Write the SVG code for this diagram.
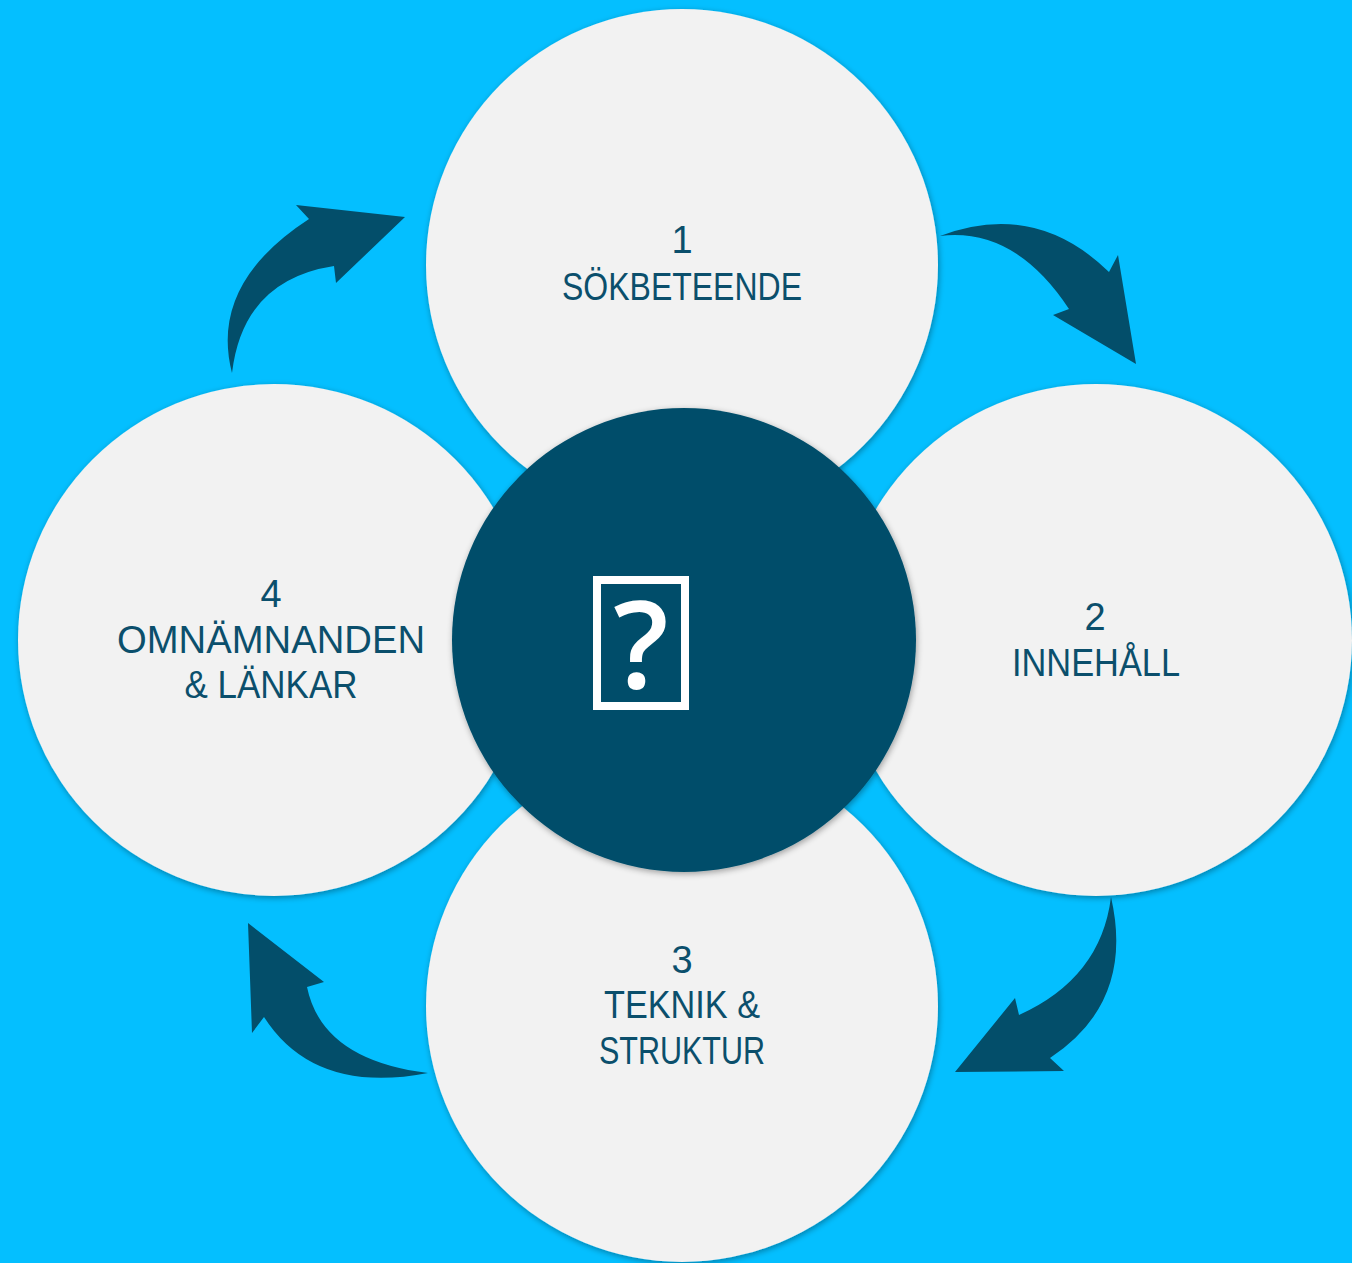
<svg xmlns="http://www.w3.org/2000/svg" width="1352" height="1263" viewBox="0 0 1352 1263">
<defs>
<filter id="sh" x="-10%" y="-10%" width="120%" height="120%">
<feGaussianBlur in="SourceAlpha" stdDeviation="3"/>
<feOffset dx="1" dy="2" result="b"/>
<feComponentTransfer><feFuncA type="linear" slope="0.35"/></feComponentTransfer>
<feMerge><feMergeNode/><feMergeNode in="SourceGraphic"/></feMerge>
</filter>
</defs>
<style>
.c{fill:#F2F2F2;filter:url(#sh)}
.t{font-family:"Liberation Sans",Arial,sans-serif;fill:#0B4F6C;text-anchor:middle;font-size:38px}
.a{fill:#034E6A}
</style>
<rect width="1352" height="1263" fill="#04BFFF"/>
<g id="connectors">
<path class="a" d="M940,236 Q1035,200 1109,272 L1118,255 L1136,364 L1053,315 L1069,309 Q1015,227 940,236 Z"/>
<path class="a" d="M1111,897 Q1135,1002 1050,1058 L1064,1071 L955,1072 L1015,998 L1019,1015 Q1101,978 1111,897 Z"/>
<path class="a" d="M428,1073 Q314,1095 264,1017 L252,1033 L248,923 L324,982 L307,987 Q322,1060 428,1073 Z"/>
<path class="a" d="M232,373 Q209,284 309,219 L296,205 L405,217 L336,283 L334,266 Q243,280 232,373 Z"/>
</g>
<g id="node1">
<circle class="c" cx="682" cy="265" r="256"/>
<text class="t" x="682" y="253">1</text>
<text class="t" x="682" y="300" textLength="240" lengthAdjust="spacingAndGlyphs">SÖKBETEENDE</text>
</g>
<g id="node2">
<circle class="c" cx="1096" cy="640" r="256"/>
<text class="t" x="1095" y="630">2</text>
<text class="t" x="1096" y="676" textLength="168" lengthAdjust="spacingAndGlyphs">INNEHÅLL</text>
</g>
<g id="node4">
<circle class="c" cx="274" cy="640" r="256"/>
<text class="t" x="271" y="607">4</text>
<text class="t" x="271" y="653" textLength="308" lengthAdjust="spacingAndGlyphs">OMNÄMNANDEN</text>
<text class="t" x="271" y="698" textLength="173" lengthAdjust="spacingAndGlyphs">&amp; LÄNKAR</text>
</g>
<g id="node3">
<circle class="c" cx="682" cy="1006" r="256"/>
<text class="t" x="682" y="973">3</text>
<text class="t" x="682" y="1018" textLength="156" lengthAdjust="spacingAndGlyphs">TEKNIK &amp;</text>
<text class="t" x="682" y="1064" textLength="166" lengthAdjust="spacingAndGlyphs">STRUKTUR</text>
</g>
<g id="center">
<circle cx="684" cy="640" r="232" fill="#034E6A" filter="url(#sh)"/>
<rect x="597" y="580" width="88" height="126" fill="none" stroke="#FFFFFF" stroke-width="8"/>
<text x="641" y="688" font-family="Open Sans,Liberation Sans,sans-serif" font-weight="600" font-size="122" fill="#FFFFFF" text-anchor="middle">?</text>
</g>
</svg>
